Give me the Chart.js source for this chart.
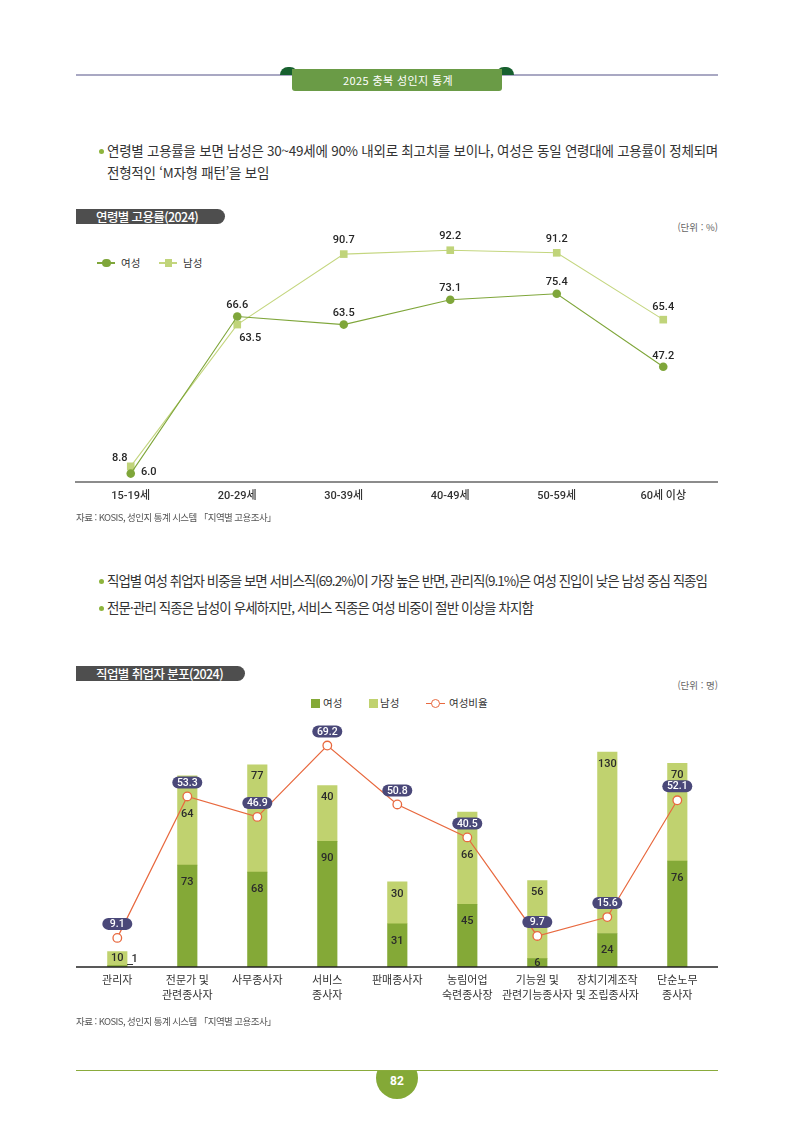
<!DOCTYPE html>
<html lang="ko"><head><meta charset="utf-8">
<script src="https://cdn.jsdelivr.net/npm/chart.js@4.4.1/dist/chart.umd.min.js"></script>
<style>
html,body{margin:0;padding:0}
body{width:794px;height:1123px;position:relative;background:#fff;font-family:'Noto Sans CJK KR','Noto Sans',sans-serif;color:#333;overflow:hidden}
.a{position:absolute;white-space:nowrap}
.body{font-size:13.5px;line-height:20px;color:#333}
.dot{position:absolute;width:5px;height:5px;border-radius:50%;background:#8db43c}
.src{font-size:9.5px;line-height:14px;color:#555}
.unit{font-size:9.5px;line-height:14px;color:#666;right:76px}
.pill{position:absolute;left:76px;height:15px;background:#4e4e4e;border-radius:0 8px 8px 0;color:#fff;font-size:12.5px;line-height:15px;font-weight:500}
.pill span{position:absolute;left:20px;top:0}
.lg{font-size:10.5px;line-height:14px;color:#333}
canvas{position:absolute}
</style></head><body>

<!-- header -->
<div class="a" style="left:76px;top:74px;width:642px;height:2px;background:#a9a8c3"></div>
<div class="a" style="left:280px;top:67px;width:18px;height:8px;border-radius:9px 9px 0 0;background:#17602f"></div>
<div class="a" style="left:496px;top:67px;width:18px;height:8px;border-radius:9px 9px 0 0;background:#17602f"></div>
<div class="a" style="left:292px;top:69px;width:210px;height:22px;background:#6a9b46;border-radius:0 0 3px 3px"></div>
<div class="a" data-w="110" style="left:343px;top:73px;font-size:11px;line-height:14px;color:#fff">2025 충북 성인지 통계</div>

<!-- bullets 1 -->
<div class="dot" style="left:99px;top:149px"></div>
<div class="a body" id="b1" data-w="611" style="left:107px;top:140px">연령별 고용률을 보면 남성은 30~49세에 90% 내외로 최고치를 보이나, 여성은 동일 연령대에 고용률이 정체되며</div>
<div class="a body sameb" style="left:107px;top:162px">전형적인 ‘M자형 패턴’을 보임</div>

<!-- chart 1 header -->
<div class="pill" style="top:209px;width:149px"><span data-w="102">연령별 고용률(2024)</span></div>
<div class="a unit" style="top:220px">(단위 : %)</div>
<div class="a" style="left:97px;top:262px;width:18px;height:1.5px;background:#7fa63a"></div>
<div class="a" style="left:102px;top:258.5px;width:8.5px;height:8.5px;border-radius:50%;background:#7fa63a"></div>
<div class="a lg" style="left:121px;top:256px">여성</div>
<div class="a" style="left:159px;top:262px;width:18px;height:1.5px;background:#c4d67f"></div>
<div class="a" style="left:164.5px;top:259px;width:7.5px;height:7.5px;background:#c0d47a"></div>
<div class="a lg" style="left:183px;top:256px">남성</div>

<canvas id="c1" width="680" height="300" style="left:60px;top:215px"></canvas>
<div class="a src" data-w="200" style="left:76px;top:510px">자료 : KOSIS, 성인지 통계 시스템 「지역별 고용조사」</div>

<!-- bullets 2 -->
<div class="dot" style="left:99px;top:579px"></div>
<div class="a body" data-w="600" style="left:107px;top:570px">직업별 여성 취업자 비중을 보면 서비스직(69.2%)이 가장 높은 반면, 관리직(9.1%)은 여성 진입이 낮은 남성 중심 직종임</div>
<div class="dot" style="left:99px;top:606px"></div>
<div class="a body" data-w="426" style="left:107px;top:597px">전문·관리 직종은 남성이 우세하지만, 서비스 직종은 여성 비중이 절반 이상을 차지함</div>

<!-- chart 2 header -->
<div class="pill" style="top:666px;width:169px"><span data-w="127">직업별 취업자 분포(2024)</span></div>
<div class="a unit" style="top:678px">(단위 : 명)</div>
<div class="a" style="left:311px;top:698.5px;width:9px;height:9px;background:#84a937"></div>
<div class="a lg" style="left:323px;top:696px">여성</div>
<div class="a" style="left:369px;top:698.5px;width:9px;height:9px;background:#c0d26f"></div>
<div class="a lg" style="left:380px;top:696px">남성</div>
<div class="a" style="left:426px;top:702.5px;width:19px;height:1.3px;background:#e8693f"></div>
<div class="a" style="left:431px;top:698.5px;width:7px;height:7px;border-radius:50%;background:#fff;border:1.2px solid #e8693f"></div>
<div class="a lg" style="left:449px;top:696px">여성비율</div>

<canvas id="c2" width="680" height="303" style="left:60px;top:712px"></canvas>
<div class="a src" data-w="200" style="left:76px;top:1014px">자료 : KOSIS, 성인지 통계 시스템 「지역별 고용조사」</div>

<!-- footer -->
<div class="a" style="left:376px;top:1070px;width:42px;height:32px;overflow:hidden">
  <div style="position:absolute;left:0;top:-13px;width:42px;height:42px;border-radius:50%;background:#84a937"></div>
  <div style="position:absolute;left:0;width:42px;top:4px;text-align:center;color:#fff;font:700 12px Roboto,sans-serif">82</div>
</div>
<div class="a" style="left:76px;top:1069.5px;width:642px;height:1.5px;background:#8aab3c"></div>

<script>
// ---------- data ----------
const ageCats = ['15-19세', '20-29세', '30-39세', '40-49세', '50-59세', '60세 이상'];
const femaleRate = [6.0, 66.6, 63.5, 73.1, 75.4, 47.2];
const maleRate = [8.8, 63.5, 90.7, 92.2, 91.2, 65.4];

const jobCats = ['관리자', ['전문가 및', '관련종사자'], '사무종사자', ['서비스', '종사자'], '판매종사자',
  ['농림어업', '숙련종사장'], ['기능원 및', '관련기능종사자'], ['장치기계조작', '및 조립종사자'], ['단순노무', '종사자']];
const femaleWorkers = [1, 73, 68, 90, 31, 45, 6, 24, 76];
const maleWorkers = [10, 64, 77, 40, 30, 66, 56, 130, 70];
const femaleShare = [9.1, 53.3, 46.9, 69.2, 50.8, 40.5, 9.7, 15.6, 52.1];

// ---------- text fitting ----------
function fit(el, target) {
  el.style.letterSpacing = '0px';
  const w = el.getBoundingClientRect().width;
  const n = el.textContent.length;
  const ls = (target - w) / n;
  el.style.letterSpacing = ls + 'px';
  return ls;
}
document.querySelectorAll('[data-w]').forEach(el => fit(el, +el.dataset.w));
const bodyLs = document.getElementById('b1').style.letterSpacing;
document.querySelectorAll('.sameb').forEach(el => el.style.letterSpacing = bodyLs);

// ---------- plugins ----------
const baseline = {
  id: 'baseline',
  afterDatasetsDraw(chart, args, o) {
    const {ctx, chartArea: ca} = chart;
    ctx.save();
    ctx.strokeStyle = o.color; ctx.lineWidth = o.width;
    ctx.beginPath();
    ctx.moveTo(ca.left - o.extL, ca.bottom + o.dy);
    ctx.lineTo(ca.right + o.extR, ca.bottom + o.dy);
    ctx.stroke();
    ctx.restore();
  }
};

const lineLabelPlacement = [
  [[18, -1], [0, -11], [0, -11], [0, -11], [0, -11], [0, -11]],
  [[-11, -8], [13, 14], [0, -14], [0, -14], [0, -14], [0, -12]]
];
const lineLabels = {
  id: 'lineLabels',
  afterDatasetsDraw(chart) {
    const ctx = chart.ctx;
    ctx.save();
    ctx.font = "500 11px Roboto, 'Noto Sans CJK KR'";
    ctx.fillStyle = '#262626';
    ctx.textAlign = 'center'; ctx.textBaseline = 'middle';
    [femaleRate, maleRate].forEach((vals, d) => {
      chart.getDatasetMeta(d).data.forEach((pt, i) => {
        const [dx, dy] = lineLabelPlacement[d][i];
        ctx.fillText(vals[i].toFixed(1), pt.x + dx, pt.y + dy);
      });
    });
    ctx.restore();
  }
};

const NAVY = '#4a4879';
const barLabels = {
  id: 'barLabels',
  afterDatasetsDraw(chart) {
    const ctx = chart.ctx;
    const fM = chart.getDatasetMeta(0), mM = chart.getDatasetMeta(1), rM = chart.getDatasetMeta(2);
    ctx.save();
    ctx.font = "500 11px Roboto, 'Noto Sans CJK KR'";
    ctx.fillStyle = '#2b2b2b';
    ctx.textAlign = 'center'; ctx.textBaseline = 'middle';
    fM.data.forEach((bar, i) => {
      const top = bar.y, base = bar.base, h = base - top;
      const t = String(femaleWorkers[i]);
      if (h < 4) {
        const xr = bar.x + bar.width / 2;
        ctx.fillText(t, xr + 7.5, base - 8);
        ctx.strokeStyle = '#333'; ctx.lineWidth = 1;
        ctx.beginPath(); ctx.moveTo(xr, base - 2.5); ctx.lineTo(xr + 6, base - 2.5); ctx.stroke();
      } else if (h < 24) {
        ctx.fillText(t, bar.x, (top + base) / 2);
      } else {
        ctx.fillText(t, bar.x, top + 17);
      }
    });
    mM.data.forEach((bar, i) => {
      const top = bar.y, base = bar.base, h = base - top;
      let y = h < 24 ? (top + base) / 2 : top + 12;
      const pt = rM.data[i];
      if (Math.abs(y - (pt.y - 14)) < 10) y = pt.y + 18;
      ctx.fillText(String(maleWorkers[i]), bar.x, y);
    });
    rM.data.forEach((pt, i) => {
      const cx = pt.x, cy = pt.y - 14, w = 30, hh = 12;
      ctx.beginPath();
      ctx.roundRect(cx - w / 2, cy - hh / 2, w, hh, hh / 2);
      ctx.fillStyle = NAVY; ctx.fill();
      ctx.fillStyle = '#fff';
      ctx.font = "500 10.5px Roboto, 'Noto Sans CJK KR'";
      ctx.fillText(femaleShare[i].toFixed(1), cx, cy + 0.5);
    });
    ctx.restore();
  }
};

// ---------- chart 1 ----------
new Chart(document.getElementById('c1'), {
  type: 'line',
  data: {
    labels: ageCats,
    datasets: [
      {label: '여성', data: femaleRate, borderColor: '#7fa63a', backgroundColor: '#7fa63a', borderWidth: 1.1,
        pointStyle: 'circle', pointRadius: 4.3, pointBorderWidth: 0, pointBackgroundColor: '#7fa63a', tension: 0},
      {label: '남성', data: maleRate, borderColor: '#c4d67f', backgroundColor: '#c0d47a', borderWidth: 1.1,
        pointStyle: 'rect', pointRadius: 5.4, pointBorderWidth: 0, pointBackgroundColor: '#c0d47a', tension: 0}
    ]
  },
  options: {
    responsive: false, animation: false,
    layout: {padding: {left: 17.5, right: 23.5, top: 15, bottom: 0}},
    plugins: {
      legend: {display: false}, tooltip: {enabled: false},
      baseline: {color: '#8c8c8c', width: 2, extL: 2.5, extR: 1.5, dy: 0}
    },
    scales: {
      x: {offset: true, grid: {display: false, drawTicks: false}, border: {display: false},
        ticks: {padding: 7.5, color: '#333', font: {family: "Roboto, 'Noto Sans CJK KR'", size: 11, weight: '500'}},
        afterFit: s => { s.height = 33; }},
      y: {display: false, min: 2.75, max: 100}
    }
  },
  plugins: [baseline, lineLabels]
});

// ---------- chart 2 ----------
new Chart(document.getElementById('c2'), {
  type: 'bar',
  data: {
    labels: jobCats,
    datasets: [
      {type: 'bar', label: '여성', data: femaleWorkers, backgroundColor: '#84a937', stack: 's', order: 1, yAxisID: 'y', barThickness: 19.5},
      {type: 'bar', label: '남성', data: maleWorkers, backgroundColor: '#c0d26f', stack: 's', order: 1, yAxisID: 'y', barThickness: 19.5},
      {type: 'line', label: '여성비율', data: femaleShare, yAxisID: 'y1', order: 0, borderColor: '#e8693f', borderWidth: 1.2,
        pointRadius: 4.3, pointBackgroundColor: '#fff', pointBorderColor: '#e8693f', pointBorderWidth: 1.3, tension: 0}
    ]
  },
  options: {
    responsive: false, animation: false,
    layout: {padding: {left: 22.3, right: 27.7, top: 15, bottom: 0}},
    plugins: {
      legend: {display: false}, tooltip: {enabled: false},
      baseline: {color: '#222', width: 1.5, extL: 6.3, extR: 5.7, dy: 0}
    },
    scales: {
      x: {stacked: true, grid: {display: false, drawTicks: false}, border: {display: false},
        ticks: {padding: 6, color: '#333', maxRotation: 0, autoSkip: false,
          font: {family: "'Noto Sans CJK KR'", size: 11, lineHeight: 1.3}},
        afterFit: s => { s.height = 48; }},
      y: {stacked: true, display: false, min: 0, max: 172.04},
      y1: {display: false, min: 0, max: 75}
    }
  },
  plugins: [baseline, barLabels]
});
</script>
</body></html>
